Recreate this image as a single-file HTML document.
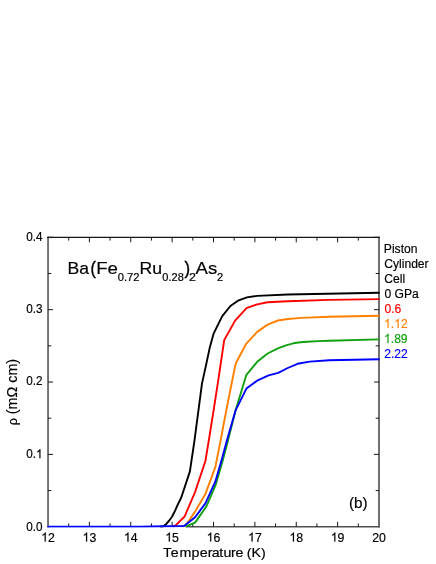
<!DOCTYPE html>
<html><head><meta charset="utf-8"><title>Ba(Fe0.72Ru0.28)2As2 resistivity</title>
<style>
html,body{margin:0;padding:0;background:#fff;}
svg{display:block;font-family:"Liberation Sans",sans-serif;}
svg{will-change:transform;}
</style></head><body>
<svg width="436" height="564" viewBox="0 0 436 564">
<rect x="0" y="0" width="436" height="564" fill="#ffffff"/>
<path d="M48.04 527.6 V236.65" fill="none" stroke="#6c6c6c" stroke-width="1.85"/>
<path d="M379.0 527.6 V236.65" fill="none" stroke="#404040" stroke-width="1.5"/>
<path d="M186 526.77 H379.8" fill="none" stroke="#505050" stroke-width="1.65"/>
<path d="M47.1 237.25 H379.8" fill="none" stroke="#161616" stroke-width="1.25"/>
<path d="M68.69 526.75 v-3.3 M68.69 237.3 v3.3 M89.38 526.75 v-5 M89.38 237.3 v5 M110.06 526.75 v-3.3 M110.06 237.3 v3.3 M130.75 526.75 v-5 M130.75 237.3 v5 M151.44 526.75 v-3.3 M151.44 237.3 v3.3 M172.12 526.75 v-5 M172.12 237.3 v5 M192.81 526.75 v-3.3 M192.81 237.3 v3.3 M213.50 526.75 v-5 M213.50 237.3 v5 M234.19 526.75 v-3.3 M234.19 237.3 v3.3 M254.88 526.75 v-5 M254.88 237.3 v5 M275.56 526.75 v-3.3 M275.56 237.3 v3.3 M296.25 526.75 v-5 M296.25 237.3 v5 M316.94 526.75 v-3.3 M316.94 237.3 v3.3 M337.62 526.75 v-5 M337.62 237.3 v5 M358.31 526.75 v-3.3 M358.31 237.3 v3.3 M48.0 490.57 h3.3 M379.0 490.57 h-3.3 M48.0 454.39 h5 M379.0 454.39 h-5 M48.0 418.21 h3.3 M379.0 418.21 h-3.3 M48.0 382.02 h5 M379.0 382.02 h-5 M48.0 345.84 h3.3 M379.0 345.84 h-3.3 M48.0 309.66 h5 M379.0 309.66 h-5 M48.0 273.48 h3.3 M379.0 273.48 h-3.3 M48.0 237.30 h5 M379.0 237.30 h-5" stroke="#181818" stroke-width="1" fill="none"/>
<clipPath id="c"><rect x="47.0" y="236.3" width="333.00" height="291.45"/></clipPath>
<path d="M160.0 526.6 L163.5 526.2 L166.5 523.7 L169.3 520.5 L172.0 516.8 L174.8 511.3 L177.5 505.1 L181.2 497.8 L189.9 471.4 L194.5 440.4 L202.0 383.4 L206.1 364.9 L209.8 347.4 L213.5 333.9 L222.1 316.4 L230.4 306.0 L238.7 300.3 L246.9 297.4 L257.2 295.9 L287.8 294.5 L379.6 292.7" stroke="#000000" stroke-width="1.9" fill="none" stroke-linejoin="round" clip-path="url(#c)"/>
<path d="M173.0 526.6 L175.9 525.2 L184.6 516.5 L195.1 492.0 L205.4 461.0 L208.8 440.4 L213.3 412.4 L219.0 375.4 L224.2 340.1 L235.1 320.6 L246.5 308.1 L257.2 304.4 L267.6 302.3 L287.8 301.3 L329.1 299.9 L379.6 299.1" stroke="#ff0000" stroke-width="1.9" fill="none" stroke-linejoin="round" clip-path="url(#c)"/>
<path d="M182.0 526.6 L185.8 525.2 L195.1 511.6 L205.4 494.1 L215.3 467.2 L220.6 440.4 L226.7 408.2 L235.6 363.8 L245.9 344.2 L257.2 331.9 L267.6 324.6 L277.9 320.5 L287.8 319.0 L301.6 317.9 L329.1 316.8 L379.6 315.7" stroke="#ff8000" stroke-width="1.9" fill="none" stroke-linejoin="round" clip-path="url(#c)"/>
<path d="M185.5 526.6 L195.1 522.6 L206.4 506.4 L215.7 484.8 L222.9 460.0 L228.0 440.4 L235.6 410.3 L246.4 374.8 L257.2 361.8 L267.6 353.5 L277.9 348.4 L286.0 345.3 L293.3 343.3 L300.3 342.3 L307.1 341.8 L318.3 341.1 L329.1 340.7 L379.6 339.4" stroke="#10a010" stroke-width="1.9" fill="none" stroke-linejoin="round" clip-path="url(#c)"/>
<path d="M47.4 526.6 L140.0 526.6 L165.0 526.2 L184.1 526.0 L195.1 517.2 L205.4 503.4 L215.3 481.7 L221.9 459.0 L226.9 440.4 L235.6 410.3 L246.4 388.6 L257.7 380.3 L268.6 375.4 L278.2 372.9 L287.8 368.0 L297.5 363.8 L309.8 361.6 L329.1 360.3 L379.6 359.2" stroke="#0000ff" stroke-width="1.9" fill="none" stroke-linejoin="round" clip-path="url(#c)"/>
<g transform="translate(48.00 541.5) scale(0.985 1)" fill="#000" stroke="#000" stroke-width="0.18"><path transform="translate(-6.95 0) scale(0.00610 -0.00610)" d="M763 0H583V1147Q518 1085 412.5 1023Q307 961 223 930V1104Q374 1175 487 1276Q600 1377 647 1472H763Z" vector-effect="non-scaling-stroke"/><text x="0.00" y="0" font-size="12.5">2</text></g>
<g transform="translate(89.38 541.5) scale(0.985 1)" fill="#000" stroke="#000" stroke-width="0.18"><path transform="translate(-6.95 0) scale(0.00610 -0.00610)" d="M763 0H583V1147Q518 1085 412.5 1023Q307 961 223 930V1104Q374 1175 487 1276Q600 1377 647 1472H763Z" vector-effect="non-scaling-stroke"/><text x="0.00" y="0" font-size="12.5">3</text></g>
<g transform="translate(130.75 541.5) scale(0.985 1)" fill="#000" stroke="#000" stroke-width="0.18"><path transform="translate(-6.95 0) scale(0.00610 -0.00610)" d="M763 0H583V1147Q518 1085 412.5 1023Q307 961 223 930V1104Q374 1175 487 1276Q600 1377 647 1472H763Z" vector-effect="non-scaling-stroke"/><text x="0.00" y="0" font-size="12.5">4</text></g>
<g transform="translate(172.12 541.5) scale(0.985 1)" fill="#000" stroke="#000" stroke-width="0.18"><path transform="translate(-6.95 0) scale(0.00610 -0.00610)" d="M763 0H583V1147Q518 1085 412.5 1023Q307 961 223 930V1104Q374 1175 487 1276Q600 1377 647 1472H763Z" vector-effect="non-scaling-stroke"/><text x="0.00" y="0" font-size="12.5">5</text></g>
<g transform="translate(213.50 541.5) scale(0.985 1)" fill="#000" stroke="#000" stroke-width="0.18"><path transform="translate(-6.95 0) scale(0.00610 -0.00610)" d="M763 0H583V1147Q518 1085 412.5 1023Q307 961 223 930V1104Q374 1175 487 1276Q600 1377 647 1472H763Z" vector-effect="non-scaling-stroke"/><text x="0.00" y="0" font-size="12.5">6</text></g>
<g transform="translate(254.88 541.5) scale(0.985 1)" fill="#000" stroke="#000" stroke-width="0.18"><path transform="translate(-6.95 0) scale(0.00610 -0.00610)" d="M763 0H583V1147Q518 1085 412.5 1023Q307 961 223 930V1104Q374 1175 487 1276Q600 1377 647 1472H763Z" vector-effect="non-scaling-stroke"/><text x="0.00" y="0" font-size="12.5">7</text></g>
<g transform="translate(296.25 541.5) scale(0.985 1)" fill="#000" stroke="#000" stroke-width="0.18"><path transform="translate(-6.95 0) scale(0.00610 -0.00610)" d="M763 0H583V1147Q518 1085 412.5 1023Q307 961 223 930V1104Q374 1175 487 1276Q600 1377 647 1472H763Z" vector-effect="non-scaling-stroke"/><text x="0.00" y="0" font-size="12.5">8</text></g>
<g transform="translate(337.62 541.5) scale(0.985 1)" fill="#000" stroke="#000" stroke-width="0.18"><path transform="translate(-6.95 0) scale(0.00610 -0.00610)" d="M763 0H583V1147Q518 1085 412.5 1023Q307 961 223 930V1104Q374 1175 487 1276Q600 1377 647 1472H763Z" vector-effect="non-scaling-stroke"/><text x="0.00" y="0" font-size="12.5">9</text></g>
<g transform="translate(379.00 541.5) scale(0.985 1)" fill="#000" stroke="#000" stroke-width="0.18"><text x="-6.95" y="0" font-size="12.5">20</text></g>
<g transform="translate(42.6 530.75) scale(0.932 1)" fill="#000" stroke="#000" stroke-width="0.18"><text x="-17.52" y="0" font-size="12.6">0.0</text></g>
<g transform="translate(42.6 458.19) scale(0.932 1)" fill="#000" stroke="#000" stroke-width="0.18"><text x="-17.52" y="0" font-size="12.6">0.</text><path transform="translate(-7.01 0) scale(0.00615 -0.00615)" d="M763 0H583V1147Q518 1085 412.5 1023Q307 961 223 930V1104Q374 1175 487 1276Q600 1377 647 1472H763Z" vector-effect="non-scaling-stroke"/></g>
<g transform="translate(42.6 385.38) scale(0.932 1)" fill="#000" stroke="#000" stroke-width="0.18"><text x="-17.52" y="0" font-size="12.6">0.2</text></g>
<g transform="translate(42.6 312.96) scale(0.932 1)" fill="#000" stroke="#000" stroke-width="0.18"><text x="-17.52" y="0" font-size="12.6">0.3</text></g>
<g transform="translate(42.6 240.60) scale(0.932 1)" fill="#000" stroke="#000" stroke-width="0.18"><text x="-17.52" y="0" font-size="12.6">0.4</text></g>
<text transform="translate(162.98 557.2) scale(1.1112 1)" font-size="12.8" fill="#000" stroke="#000" stroke-width="0.18" dx="0.00 0.63 0.63 0.27 0.27 0.00 -0.72 -0.18 0.09 -0.27 -0.18 -0.27 -0.27 0.00 0.00">Temperature (K)</text>
<text transform="translate(16.7 392.1) rotate(-90) scale(1.0 1.06)" font-size="14.35" text-anchor="middle" stroke="#000" stroke-width="0.18"><tspan font-size="12.6">ρ</tspan> (mΩ cm)</text>
<text transform="translate(383.85 252.7) scale(0.9400 1)" font-size="12.9" fill="#000" stroke="#000" stroke-width="0.18">Piston</text>
<text transform="translate(384.23 267.75) scale(0.9400 1)" font-size="12.9" fill="#000" stroke="#000" stroke-width="0.18">Cylinder</text>
<text transform="translate(384.23 282.8) scale(0.9400 1)" font-size="12.9" fill="#000" stroke="#000" stroke-width="0.18">Cell</text>
<text transform="translate(384.42 297.85) scale(0.9400 1)" font-size="12.9" fill="#000" stroke="#000" stroke-width="0.18">0 GPa</text>
<text transform="translate(384.42 312.9) scale(0.9400 1)" font-size="12.9" fill="#ff0000" stroke="#ff0000" stroke-width="0.18">0.6</text>
<g transform="translate(384.04 327.95) scale(0.94 1)" fill="#ff8000" stroke="#ff8000" stroke-width="0.18"><path transform="translate(0.00 0) scale(0.00630 -0.00630)" d="M763 0H583V1147Q518 1085 412.5 1023Q307 961 223 930V1104Q374 1175 487 1276Q600 1377 647 1472H763Z" vector-effect="non-scaling-stroke"/><text x="7.17" y="0" font-size="12.9">.</text><path transform="translate(10.76 0) scale(0.00630 -0.00630)" d="M763 0H583V1147Q518 1085 412.5 1023Q307 961 223 930V1104Q374 1175 487 1276Q600 1377 647 1472H763Z" vector-effect="non-scaling-stroke"/><text x="17.93" y="0" font-size="12.9">2</text></g>
<g transform="translate(384.04 343.00) scale(0.94 1)" fill="#10a010" stroke="#10a010" stroke-width="0.18"><path transform="translate(0.00 0) scale(0.00630 -0.00630)" d="M763 0H583V1147Q518 1085 412.5 1023Q307 961 223 930V1104Q374 1175 487 1276Q600 1377 647 1472H763Z" vector-effect="non-scaling-stroke"/><text x="7.17" y="0" font-size="12.9">.89</text></g>
<g transform="translate(384.23 358.05) scale(0.94 1)" fill="#0000ff" stroke="#0000ff" stroke-width="0.18"><text x="0.00" y="0" font-size="12.9">2.22</text></g>
<text transform="translate(348.88 507.8) scale(1.0072 1)" font-size="15.2" fill="#000" stroke="#000" stroke-width="0.18">(b)</text>
<text transform="translate(67.62 273.5) scale(1.0133 1)" font-size="17.4" fill="#000" stroke="#000" stroke-width="0.18">Ba</text>
<text transform="translate(90.55 274.1) scale(0.8511 1)" font-size="18.8" fill="#000" stroke="#000" stroke-width="0.4">(</text>
<text transform="translate(96.19 273.5) scale(1.0718 1)" font-size="17.4" fill="#000" stroke="#000" stroke-width="0.18">Fe</text>
<text transform="translate(117.65 281.3) scale(1.1203 1)" font-size="10" fill="#000" stroke="#000" stroke-width="0.18">0.72</text>
<text transform="translate(139.62 273.5) scale(1.0148 1)" font-size="17.4" fill="#000" stroke="#000" stroke-width="0.18">Ru</text>
<text transform="translate(162.35 281.3) scale(1.1043 1)" font-size="10" fill="#000" stroke="#000" stroke-width="0.18">0.28</text>
<text transform="translate(184.40 274.1) scale(0.8889 1)" font-size="18.8" fill="#000" stroke="#000" stroke-width="0.4">)</text>
<text transform="translate(188.92 281.3) scale(1.2373 1)" font-size="10" fill="#000" stroke="#000" stroke-width="0.18">2</text>
<text transform="translate(195.60 273.5) scale(1.0677 1)" font-size="17.4" fill="#000" stroke="#000" stroke-width="0.18">As</text>
<text transform="translate(216.88 281.3) scale(1.1093 1)" font-size="10" fill="#000" stroke="#000" stroke-width="0.18">2</text>
</svg>
</body></html>
